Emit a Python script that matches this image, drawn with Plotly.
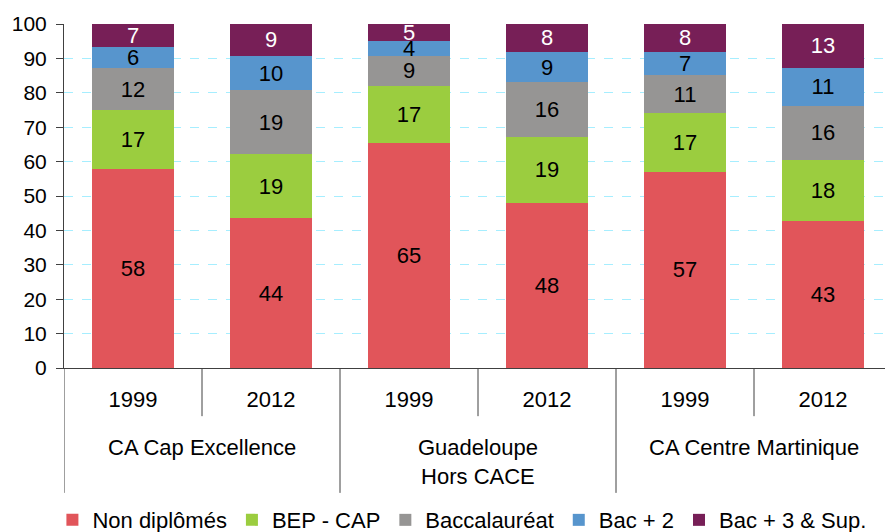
import plotly.graph_objects as go

group_labels = ["CA Cap Excellence", "Guadeloupe<br>Hors CACE", "CA Centre Martinique"]
years = ["1999", "2012", "1999", "2012", "1999", "2012"]

series_names = ["Non diplômés", "BEP - CAP", "Baccalauréat", "Bac + 2", "Bac + 3 & Sup."]
non_diplomes = [57.8, 43.6, 65.4, 48.0, 57.0, 42.6]
bep_cap = [17.2, 18.6, 16.6, 19.2, 17.1, 17.8]
baccalaureat = [12.2, 18.6, 8.7, 15.9, 11.1, 15.9]
bac2 = [6.1, 9.9, 4.4, 8.8, 6.7, 11.0]
bac3 = [6.7, 9.3, 4.9, 8.1, 8.1, 12.7]

series_values = [non_diplomes, bep_cap, baccalaureat, bac2, bac3]
colors = ["#E1555A", "#9BCD3F", "#969594", "#5795CD", "#771F57"]
text_colors = ["#000000", "#000000", "#000000", "#000000", "#FFFFFF"]

y_ticks = [0, 10, 20, 30, 40, 50, 60, 70, 80, 90, 100]

FONT = "Liberation Sans"
AX = "#404040"

xs = list(range(len(years)))

fig = go.Figure()
for name, vals, col, tcol in zip(series_names, series_values, colors, text_colors):
    fig.add_trace(go.Bar(
        x=xs, y=vals, name=name,
        marker=dict(color=col, line=dict(width=0)),
        texttemplate="%{y:.0f}", textposition="inside", insidetextanchor="middle",
        textangle=0, constraintext="none",
        textfont=dict(color=tcol, size=22, family=FONT),
        hoverinfo="skip",
    ))

n_per_group = len(years) // len(group_labels)
for gi, lab in enumerate(group_labels):
    center = gi * n_per_group + (n_per_group - 1) / 2
    fig.add_annotation(x=center, xref="x", y=-0.19, yref="paper", yanchor="top",
                       text=lab, showarrow=False, font=dict(size=22, family=FONT, color="#000"))
    left = gi * n_per_group - 0.5
    fig.add_shape(type="line", xref="x", yref="paper", x0=left, x1=left, y0=0, y1=-0.363,
                  line=dict(color=AX, width=1))
    for k in range(1, n_per_group):
        pos = gi * n_per_group + k - 0.5
        fig.add_shape(type="line", xref="x", yref="paper", x0=pos, x1=pos, y0=0, y1=-0.14,
                      line=dict(color=AX, width=1))

# page body has an 8px default margin; the figure is sized so the plot lands where the reference has it
fig.update_layout(
    barmode="stack", bargap=0.406,
    width=885, height=524,
    margin=dict(l=56, r=1, t=16, b=164, autoexpand=False),
    plot_bgcolor="white", paper_bgcolor="white",
    font=dict(family=FONT, size=22, color="#000000"),
    showlegend=True,
    legend=dict(orientation="h", x=-0.014, xanchor="left", y=-0.442, yanchor="middle",
                font=dict(size=22, family=FONT), traceorder="normal", itemwidth=30),
    uniformtext=dict(minsize=14, mode="show"),
)
fig.update_yaxes(range=[0, 100], tickvals=y_ticks, showgrid=True,
                 gridcolor="#A6EEFF", griddash="dash", gridwidth=1,
                 showline=True, linecolor=AX, linewidth=1,
                 ticks="outside", ticklen=7, tickcolor=AX, ticklabelstandoff=5,
                 tickfont=dict(size=21, family=FONT), zeroline=False)
fig.update_xaxes(range=[-0.5, len(years) - 0.5], tickvals=xs, ticktext=years,
                 showline=True, linecolor=AX, linewidth=1, showgrid=False,
                 ticks="", ticklabelstandoff=12, zeroline=False,
                 tickfont=dict(size=22, family=FONT))

fig.write_html("out.html")
